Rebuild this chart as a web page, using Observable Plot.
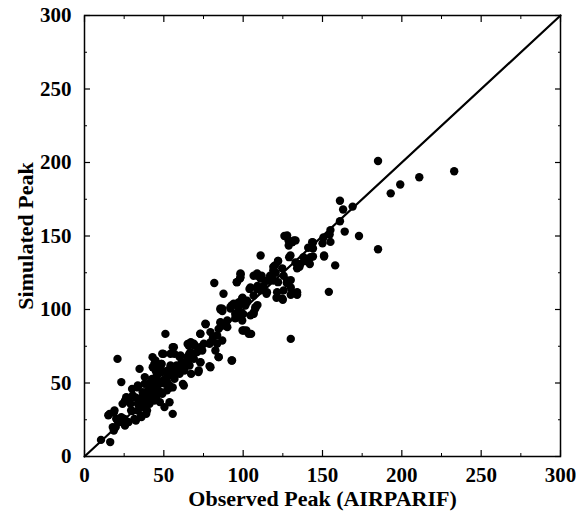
<!DOCTYPE html>
<html><head><meta charset="utf-8">
<script src="https://cdn.jsdelivr.net/npm/d3@7"></script>
<script src="https://cdn.jsdelivr.net/npm/@observablehq/plot@0.6"></script>
<style>body{margin:0;background:#fff}</style>
</head><body><div id="chart"></div>
<script>
const observed = [
185,193,199,211,233,185,173,158,154,130,161,163,169,164,161,155,154.5,155,150.6,150,151,144,144,142,139,135.5,133,134,130,126,128.6,132,129,130,127.5,125,121,122,119,120.5,118,115.8,114.7,111,109,111.6,109,104,109,106.6,105,99.6,102,98.4,98,96,99.6,97.3,92.7,87.6,85.7,86.9,98.4,95,90,85.7,84.5,81.8,76.4,73,92.7,84.5,78.8,81,78.8,73,69.5,67,65,66,61.4,71.8,73,62,55.6,51,55.6,56.7,60,58,53,48.6,49.8,44,42.9,46.3,51,55.6,52,46.3,40.5,39.4,44,47.5,34.7,38,33.6,30,35.9,32.4,26.6,25.5,29,30,37,39.4,35.9,32.4,27.8,20.8,23.2,24,15,18.5,23.2,20.8,25.5,19.7,18.5,10.4,16.2,
127.7,130.9,128.7,133,143.5,141,144,151,142.4,138,136,134,129.8,122,120,119,124.6,125.5,117,115,119,122,127.7,130,125.5,121.4,124.6,131,134,108.8,106.6,111,98.3,98.3,96,112.8,108.8,104.6,111,115,106.6,102.5,99.4,94,97,92,101.4,107.7,106.6,100,85.7,90,95,99.4,
86.8,92,97.2,102.5,107.7,104.6,98.3,85.7,88.8,76.2,73,79.4,83.6,86.8,100.4,103.5,79.4,75.2,68.9,65.7,66.8,71,74.2,83.6,82.5,56.3,54.2,49,60.5,64.7,68.9,73.1,84.6,93,79.4,72,44.7,47.9,54.2,58.4,62.6,45.8,52.1,57.3,42.6,45.8,52.1,54.2,62.6,44.7,49,41.6,
15.8,18.9,20,17.8,22,25.2,27.3,31.5,35.7,29.4,33.6,38.9,26.3,30.4,28.4,33.6,37.8,41,36.7,41,45.2,48.3,45.2,42,37.8,33.6,45.2,50.4,53.6,56.7,59.9,63,66.2,52.5,48.3,43,48.3,56.7,60.9,67.2,53.6,50.4,
40,43,47,50,53,57,60,36,39,42,46,49,52,55,58,62,65,45,48
];
const simulated = [
201,179,185,190,194,141,150,130,112,80,174,168,170,153,160,154,151,146,149,145,136,145.6,136,131,133,129,132,110,110,150,147,147,135.6,120,118,106.6,108,133,129,125,122,119.7,110.7,136.7,123,123,116,114,103,98,83.4,85.7,85.7,124,121,118.6,108,105,102.7,110.7,100,99,94.8,97,88,91,86.8,118,90,83.4,65.3,67.6,61.5,81,76.6,74.4,75.5,77.8,76.6,69.8,64,57.4,64,49.4,29,83.4,74.4,69.8,67.6,62,58.5,63,69.8,63,67.6,56,49.4,47,45,45,49.4,42.6,38,37,59.6,54,47,46,40,40,40,38,35.8,31,33.6,31.3,26.8,24.5,23.4,66.4,50.6,35.8,28,30,26.8,24.5,21,20,17.7,11.3,9.8,
150.3,145.8,143.5,147,145.8,142,141.5,136.7,135.6,135.6,131,128,136.7,133,130,126.5,128,123,123,119.7,119.7,118.6,119.7,115,113,111.8,107.5,111.8,111.8,124.5,123,121,124.5,122,118.6,116,114,115,113,111.8,109.5,106,107.5,104,100.7,100.7,102.7,100.7,97,97,100.7,92.5,94,92.5,
100.5,101.6,103.9,105,101.6,96,97,91.4,89,90.3,83.5,84.6,82.3,78.9,85.7,83.5,77.8,76.7,76.7,75.5,71,71,72.1,76.7,72.1,74.4,69.9,69.9,68.7,67.6,66.5,64.2,67.6,65.3,60.7,58.5,65.3,61.9,61.9,60.7,61.9,57.3,57.3,56.2,52.8,50.5,50.5,47.1,48.3,43.7,42.6,40.3,
29,31.3,25.6,20,23.4,25.6,23.4,25.6,27.9,31.3,31.3,29,40.3,41.5,36.9,35.8,38.1,35.8,43.7,42.6,40.3,43.7,47.1,49.4,49.4,48.3,53.9,51.7,48.3,52.8,56.2,58.5,61.9,58.5,57.3,60.7,63,60.7,63,56.2,36.9,33.6,
45,47,50,52,55,58,61,38,41,44,46,50,54,56,59,63,64,58,60
];
const majorTicks = [0, 50, 100, 150, 200, 250, 300];
const minorTicks = [25, 75, 125, 175, 225, 275];
const identityLine = [0, 300];
const xLabel = "Observed Peak (AIRPARIF)";
const yLabel = "Simulated Peak";

const points = observed.map((x, i) => ({x, y: simulated[i]}));
const diag = identityLine.map(v => ({x: v, y: v}));
const blank = () => "";

const chart = Plot.plot({
  width: 576, height: 515,
  marginLeft: 84, marginRight: 16, marginTop: 15, marginBottom: 59,
  style: {fontFamily: "'Liberation Serif', 'Times New Roman', serif", fontSize: "21px", fontWeight: "bold", color: "#000", background: "#fff", overflow: "visible"},
  x: {domain: [0, 300]},
  y: {domain: [0, 300]},
  marks: [
    Plot.axisX({ticks: majorTicks, tickSize: -6, tickPadding: 17, label: null, strokeWidth: 1.2, fill: "#000"}),
    Plot.axisX({ticks: minorTicks, tickSize: -3, tickFormat: blank, label: null}),
    Plot.axisX({anchor: "top", ticks: majorTicks, tickSize: -6, tickFormat: blank, label: null, strokeWidth: 1.2}),
    Plot.axisX({anchor: "top", ticks: minorTicks, tickSize: -3, tickFormat: blank, label: null}),
    Plot.axisY({ticks: majorTicks, tickSize: -6, tickPadding: 19, label: null, strokeWidth: 1.2, fill: "#000"}),
    Plot.axisY({ticks: minorTicks, tickSize: -3, tickFormat: blank, label: null}),
    Plot.axisY({anchor: "right", ticks: majorTicks, tickSize: -6, tickFormat: blank, label: null, strokeWidth: 1.2}),
    Plot.axisY({anchor: "right", ticks: minorTicks, tickSize: -3, tickFormat: blank, label: null}),
    Plot.frame({stroke: "#000", strokeWidth: 1.5}),
    Plot.line(diag, {x: "x", y: "y", stroke: "#000", strokeWidth: 2.2}),
    Plot.dot(points, {x: "x", y: "y", r: 4.2, fill: "#000"}),
    Plot.text([xLabel], {frameAnchor: "bottom", dy: 49, lineAnchor: "bottom", textAnchor: "middle", text: d => d, fontSize: 22, fontWeight: "bold", fill: "#000"}),
    Plot.text([yLabel], {frameAnchor: "left", dx: -59, rotate: -90, lineAnchor: "middle", textAnchor: "middle", text: d => d, fontSize: 22, fontWeight: "bold", fill: "#000"})
  ]
});
document.getElementById("chart").appendChild(chart);
</script>
</body></html>
